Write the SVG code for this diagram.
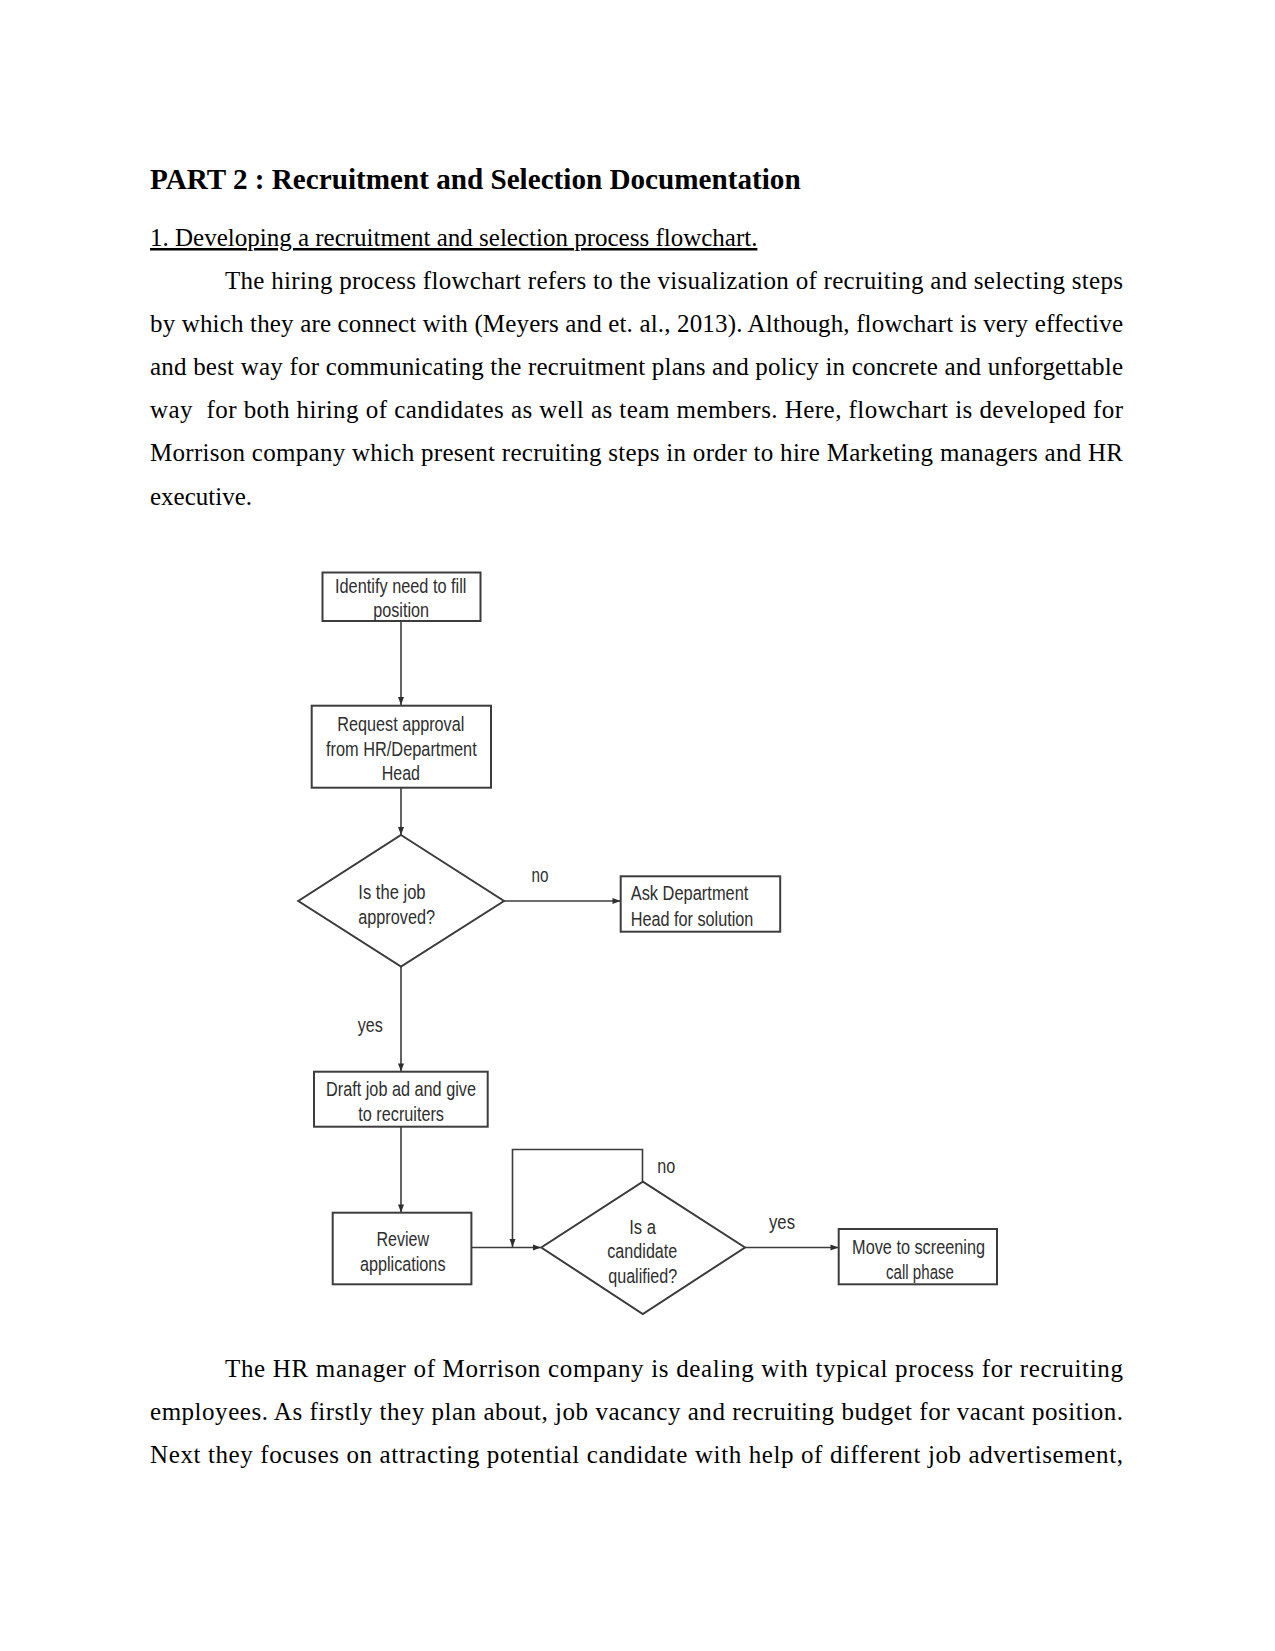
<svg xmlns="http://www.w3.org/2000/svg" width="1275" height="1651" viewBox="0 0 1275 1651">
<style>
.h{font-family:"Liberation Serif","Times New Roman",serif;font-weight:bold;font-size:29.17px;fill:#000}
.b{font-family:"Liberation Serif","Times New Roman",serif;font-size:25px;fill:#000}
.box{fill:#fff;stroke:#3c3c3c;stroke-width:2}
.fc{font-family:"Liberation Sans",Arial,sans-serif;font-size:20.5px;fill:#2e2e2e}
.c{text-anchor:middle}
.ln{fill:none;stroke:#3c3c3c;stroke-width:1.6}
</style>
<defs>
<marker id="ah" markerUnits="userSpaceOnUse" markerWidth="10" markerHeight="10" viewBox="0 0 10 10" refX="9" refY="5" orient="auto">
<path d="M1,2 L9,5 L1,8 Z" fill="#2e2e2e"/>
</marker>
</defs>
<rect width="1275" height="1651" fill="#fff"/>

<g id="text-top">
<text class="h" x="150" y="188.5">PART 2 : Recruitment and Selection Documentation</text>
<text class="b" x="150" y="246" text-decoration="underline">1. Developing a recruitment and selection process flowchart.</text>
<text class="b" x="225" y="288.5" textLength="898" lengthAdjust="spacing">The hiring process flowchart refers to the visualization of recruiting and selecting steps</text>
<text class="b" x="150" y="331.7" textLength="973" lengthAdjust="spacing">by which they are connect with (Meyers and et. al., 2013). Although, flowchart is very effective</text>
<text class="b" x="150" y="374.9" textLength="973" lengthAdjust="spacing">and best way for communicating the recruitment plans and policy in concrete and unforgettable</text>
<text class="b" x="150" y="418.1" textLength="973" lengthAdjust="spacing" xml:space="preserve">way  for both hiring of candidates as well as team members. Here, flowchart is developed for</text>
<text class="b" x="150" y="461.3" textLength="973" lengthAdjust="spacing">Morrison company which present recruiting steps in order to hire Marketing managers and HR</text>
<text class="b" x="150" y="504.5">executive.</text>
</g>

<g id="connectors">
<path class="ln" d="M401,621 V705" marker-end="url(#ah)"/>
<path class="ln" d="M401,787.5 V835" marker-end="url(#ah)"/>
<path class="ln" d="M504,901 H620.5" marker-end="url(#ah)"/>
<path class="ln" d="M401,966.5 V1071.5" marker-end="url(#ah)"/>
<path class="ln" d="M401,1127 V1212.5" marker-end="url(#ah)"/>
<path class="ln" d="M471,1247.5 H541" marker-end="url(#ah)"/>
<path class="ln" d="M642.5,1181.7 V1149.5 H512.5 V1247" marker-end="url(#ah)"/>
<path class="ln" d="M745,1247.5 H838.5" marker-end="url(#ah)"/>
<text class="fc" x="531.5" y="882" textLength="17" lengthAdjust="spacingAndGlyphs">no</text>
<text class="fc" x="357.7" y="1031.5" textLength="25" lengthAdjust="spacingAndGlyphs">yes</text>
<text class="fc" x="657.3" y="1172.5" textLength="18" lengthAdjust="spacingAndGlyphs">no</text>
<text class="fc" x="769" y="1228.5" textLength="26" lengthAdjust="spacingAndGlyphs">yes</text>
</g>

<g id="n-identify">
<rect class="box" x="322.5" y="572.5" width="158" height="48.5"/>
<text class="fc" x="335" y="592.5" textLength="131.5" lengthAdjust="spacingAndGlyphs">Identify need to fill</text>
<text class="fc" x="373.3" y="616.5" textLength="55.7" lengthAdjust="spacingAndGlyphs">position</text>
</g>

<g id="n-request">
<rect class="box" x="311.7" y="705.7" width="179.3" height="82"/>
<text class="fc" x="337.3" y="730.5" textLength="127" lengthAdjust="spacingAndGlyphs">Request approval</text>
<text class="fc" x="326" y="755.5" textLength="150.7" lengthAdjust="spacingAndGlyphs">from HR/Department</text>
<text class="fc" x="381.7" y="779.5" textLength="38.3" lengthAdjust="spacingAndGlyphs">Head</text>
</g>

<g id="n-approved">
<polygon class="box" points="401,835 504,901 401,966.5 298.3,901"/>
<text class="fc" x="358.3" y="899" textLength="67.3" lengthAdjust="spacingAndGlyphs">Is the job</text>
<text class="fc" x="358.3" y="924" textLength="76.7" lengthAdjust="spacingAndGlyphs">approved?</text>
</g>

<g id="n-ask">
<rect class="box" x="620.7" y="876.3" width="159.5" height="55.4"/>
<text class="fc" x="630.7" y="900" textLength="117.7" lengthAdjust="spacingAndGlyphs">Ask Department</text>
<text class="fc" x="630.7" y="925.5" textLength="122.7" lengthAdjust="spacingAndGlyphs">Head for solution</text>
</g>

<g id="n-draft">
<rect class="box" x="314" y="1071.7" width="173.7" height="55"/>
<text class="fc" x="326" y="1095.5" textLength="150" lengthAdjust="spacingAndGlyphs">Draft job ad and give</text>
<text class="fc" x="358.3" y="1120.5" textLength="85.7" lengthAdjust="spacingAndGlyphs">to recruiters</text>
</g>

<g id="n-review">
<rect class="box" x="332.7" y="1212.7" width="138.7" height="71.6"/>
<text class="fc" x="376.4" y="1245.5" textLength="52.6" lengthAdjust="spacingAndGlyphs">Review</text>
<text class="fc" x="359.9" y="1270.5" textLength="85.6" lengthAdjust="spacingAndGlyphs">applications</text>
</g>

<g id="n-qualified">
<polygon class="box" points="642.8,1181.7 745,1247.5 642.8,1314 541.3,1247.5"/>
<text class="fc" x="629.2" y="1233.5" textLength="26.8" lengthAdjust="spacingAndGlyphs">Is a</text>
<text class="fc" x="607.3" y="1257.5" textLength="70" lengthAdjust="spacingAndGlyphs">candidate</text>
<text class="fc" x="608.2" y="1282.5" textLength="69.1" lengthAdjust="spacingAndGlyphs">qualified?</text>
</g>

<g id="n-move">
<rect class="box" x="838.7" y="1229" width="158.3" height="55.3"/>
<text class="fc" x="852.1" y="1253.5" textLength="132.9" lengthAdjust="spacingAndGlyphs">Move to screening</text>
<text class="fc" x="886" y="1278.5" textLength="68" lengthAdjust="spacingAndGlyphs">call phase</text>
</g>

<g id="text-bottom">
<text class="b" x="225" y="1376.8" textLength="898" lengthAdjust="spacing">The HR manager of Morrison company is dealing with typical process for recruiting</text>
<text class="b" x="150" y="1420" textLength="973" lengthAdjust="spacing">employees. As firstly they plan about, job vacancy and recruiting budget for vacant position.</text>
<text class="b" x="150" y="1463.2" textLength="973" lengthAdjust="spacing">Next they focuses on attracting potential candidate with help of different job advertisement,</text>
</g>
</svg>
